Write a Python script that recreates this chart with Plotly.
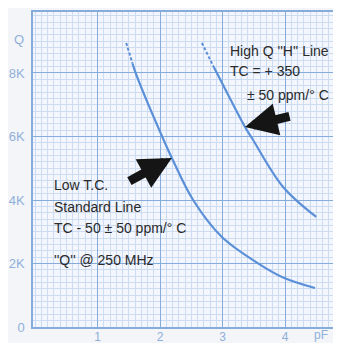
import plotly.graph_objects as go

# -- data --------------------------------------------------------------
std_dash_pf = [1.46, 1.56]
std_dash_q = [8945, 8300]
std_pf = [1.56, 1.62, 2.08, 2.19, 2.53, 2.99, 3.55, 3.97, 4.48]
std_q = [8300, 7950, 5795, 5323, 4000, 2835, 2030, 1560, 1228]

hq_dash_pf = [2.67, 2.86]
hq_dash_q = [8945, 8190]
hq_pf = [2.86, 2.91, 3.36, 3.47, 3.97, 4.50]
hq_q = [8190, 8000, 6299, 5953, 4409, 3465]

x_ticks = [1, 2, 3, 4]
x_labels = ["1", "2", "3", "4"]
y_ticks = [0, 2000, 4000, 6000, 8000]
y_labels = ["0", "2K", "4K", "6K", "8K"]

curve_col = "#5b90d8"
major_col = "#86acdc"
minor_col = "#cddcf1"
label_col = "#8fb0da"
txt_col = "#2a2a2a"

fig = go.Figure()
for px_, q_ in [(std_dash_pf, std_dash_q), (hq_dash_pf, hq_dash_q)]:
    fig.add_trace(go.Scatter(x=px_, y=q_, mode="lines",
                             line=dict(color=curve_col, width=2, dash="3px,2px")))
for px_, q_ in [(std_pf, std_q), (hq_pf, hq_q)]:
    fig.add_trace(go.Scatter(x=px_, y=q_, mode="lines", line_shape="spline",
                             line=dict(color=curve_col, width=2.2)))

font = dict(family="Liberation Sans, Arial, sans-serif", size=14, color=txt_col)
notes = [
    ("Low T.C.", 0.27, 4473),
    ("Standard Line", 0.27, 3780),
    ("TC - 50 ± 50 ppm/° C", 0.27, 3118),
    ("''Q'' @ 250 MHz", 0.27, 2110),
    ("High Q ''H'' Line", 3.09, 8694),
    ("TC = + 350", 3.09, 8064),
    ("± 50 ppm/° C", 3.36, 7307),
]
for t, x, y in notes:
    fig.add_annotation(x=x, y=y, text=t, showarrow=False, xanchor="left",
                       yanchor="middle", font=font)

# black pointer arrows
fig.add_annotation(x=2.19, y=5323, ax=-44, ay=24, text="", showarrow=True,
                   arrowhead=2, arrowwidth=9, arrowsize=0.72, arrowcolor="#151515")
fig.add_annotation(x=3.36, y=6299, ax=46, ay=-11, text="", showarrow=True,
                   arrowhead=2, arrowwidth=9, arrowsize=0.72, arrowcolor="#151515")

lab_font = dict(family="Liberation Sans, Arial, sans-serif", size=13, color=label_col)
x_font = dict(family="Liberation Sans, Arial, sans-serif", size=12, color=label_col)
fig.add_annotation(x=-0.0227, y=9040, xref="paper", yref="y", text="Q",
                   showarrow=False, xanchor="right", font=lab_font)
fig.add_annotation(x=4.58, y=0.0, xref="x", yref="paper", text="pF",
                   showarrow=False, yanchor="top", yshift=1, font=x_font)

# page body keeps its default 8px margin, so the figure is 8px smaller
fig.update_layout(
    width=333, height=335,
    margin=dict(l=25, r=0, t=4, b=16),
    paper_bgcolor="#f4f5f8",
    plot_bgcolor="#f3f6fc",
    showlegend=False,
)
fig.update_xaxes(
    range=[-0.032, 4.896], tickmode="array", tickvals=x_ticks, ticktext=x_labels,
    showgrid=True, gridcolor=major_col, gridwidth=1.3, zeroline=False,
    showline=True, linecolor=major_col, linewidth=1.5, mirror=True,
    tickfont=x_font, ticks="", automargin=False, ticklabelstandoff=-2,
    minor=dict(dtick=0.1, tick0=0, showgrid=True, gridcolor=minor_col, gridwidth=1),
)
fig.update_yaxes(
    range=[0, 9921], tickmode="array", tickvals=y_ticks, ticktext=y_labels,
    showgrid=True, gridcolor=major_col, gridwidth=1.3, zeroline=False,
    showline=True, linecolor=major_col, linewidth=1.5, mirror=True,
    tickfont=lab_font, ticks="outside", ticklen=4, tickcolor="rgba(0,0,0,0)",
    automargin=False,
    minor=dict(dtick=200, tick0=0, showgrid=True, gridcolor=minor_col, gridwidth=1),
)

fig.write_html("out.html")
